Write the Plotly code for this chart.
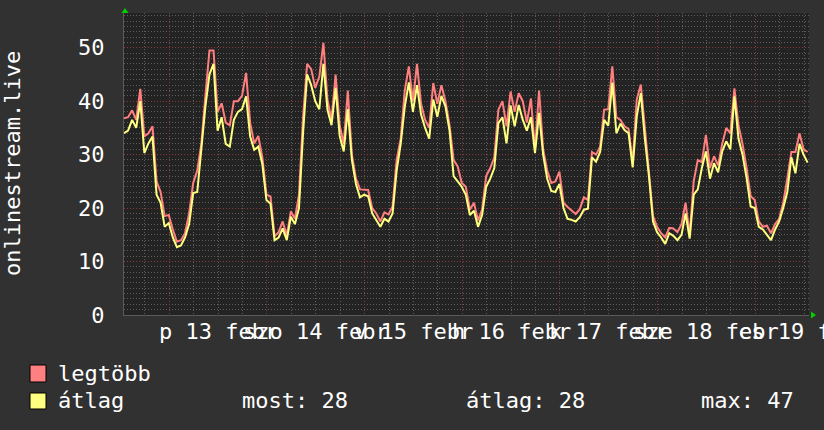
import pandas as pd
import plotly.graph_objects as go

# ---------------- data ----------------
start_time = "2015-02-12 12:52"
range_start = "2015-02-12 12:52"
range_end = "2015-02-19 13:12"

max_values = [
    36.8, 37.0, 38.3, 36.5, 42.3, 33.4, 34.0, 35.3, 25.0, 23.0,
    18.5, 18.7, 16.0, 13.7, 14.0, 15.3, 19.0, 24.7, 27.0, 32.0,
    41.0, 49.5, 49.5, 38.0, 39.6, 36.0, 35.5, 40.0, 40.0, 41.0,
    45.3, 36.0, 32.1, 33.5, 29.5, 22.5, 22.2, 14.7, 15.5, 17.5,
    14.8, 19.4, 18.0, 22.5, 37.0, 47.0, 46.0, 42.5, 44.6, 50.9,
    40.3, 36.5, 45.0, 35.5, 32.0, 42.0, 30.0, 25.5, 23.5, 23.4,
    23.4, 20.0, 19.0, 17.5, 19.2, 18.8, 20.3, 29.0, 33.0, 42.0,
    46.5, 40.0, 47.0, 39.5, 36.5, 35.0, 43.4, 39.5, 43.0, 40.0,
    35.5, 29.0, 27.8, 24.7, 24.0, 19.7, 21.0, 17.7, 19.7, 26.0,
    27.5, 29.5, 38.4, 40.0, 35.3, 41.8, 38.0, 41.5, 40.0, 36.0,
    40.5, 31.0, 42.0, 31.0, 27.0, 24.7, 25.0, 26.8, 21.0, 20.2,
    19.5, 18.9, 19.8, 22.0, 21.5, 30.5, 30.0, 31.5, 38.4, 38.5,
    46.5, 37.0, 36.5, 35.3, 34.8, 28.5, 40.3, 43.1, 35.0, 27.0,
    18.5, 16.5, 15.3, 14.5, 16.3, 16.2, 15.5, 17.0, 21.0, 15.0,
    25.0, 29.0, 28.6, 33.7, 27.5, 29.7, 28.0, 32.0, 35.0, 34.0,
    42.4, 35.5, 32.0, 27.5, 22.2, 21.5, 17.5, 16.5, 16.7, 15.3,
    17.0, 18.0, 21.0, 25.5, 30.5, 30.5, 34.0, 31.0, 30.5,
]

avg_values = [
    34.0, 34.5, 36.5, 35.0, 40.0, 30.3, 32.1, 33.4, 22.5, 21.0,
    16.5, 17.2, 14.5, 12.7, 13.0, 14.5, 17.0, 22.8, 23.0, 30.5,
    39.0, 45.0, 47.0, 34.5, 37.0, 32.0, 31.5, 36.5, 38.0, 38.5,
    40.9, 33.4, 30.9, 31.5, 28.2, 21.5, 20.8, 14.0, 14.5, 16.2,
    14.0, 18.4, 17.0, 20.0, 34.0, 45.0, 43.0, 40.0, 38.5, 47.0,
    38.4, 35.5, 42.5, 33.5, 30.6, 38.5, 29.0, 24.5, 22.0, 22.5,
    22.2, 19.0, 17.8, 16.5, 18.0, 17.5, 19.0, 27.0, 32.0, 39.0,
    43.5, 38.0, 43.0, 37.5, 35.0, 33.0, 40.3, 37.1, 41.0, 39.0,
    34.5, 26.0, 25.0, 24.0, 22.5, 18.7, 19.5, 16.5, 18.7, 24.0,
    25.5, 27.5, 35.9, 37.0, 32.1, 39.2, 35.3, 39.3, 36.5, 34.5,
    37.0, 30.3, 37.8, 30.0, 25.5, 23.2, 23.0, 24.5, 20.0, 18.0,
    17.8, 17.5, 18.3, 19.7, 19.9, 29.5, 28.7, 30.5, 36.5, 35.4,
    43.5, 34.0, 35.8, 34.6, 34.0, 27.6, 37.1, 41.5, 33.0, 26.0,
    17.5, 15.5, 14.5, 13.3, 15.3, 14.8, 14.0, 15.0, 19.0, 14.3,
    22.5, 23.5, 27.5, 30.6, 25.5, 28.4, 26.7, 30.6, 32.5, 31.0,
    40.9, 33.0, 30.0, 25.6, 20.3, 20.0, 16.5, 16.0, 15.0, 14.0,
    16.0, 17.5, 20.0, 23.0, 29.5, 26.5, 32.0, 30.0, 28.5,
]

day_label_dates = ["2015-02-13 12:00", "2015-02-14 12:00", "2015-02-15 12:00",
                   "2015-02-16 12:00", "2015-02-17 12:00", "2015-02-18 12:00",
                   "2015-02-19 12:00"]
day_labels = ["p 13 febr", "szo 14 febr", "v 15 febr", "h 16 febr",
              "k 17 febr", "sze 18 febr", "cs 19 febr"]

series_names = ["legtöbb", "átlag"]
stat_labels = ["most: 28", "átlag: 28", "max: 47"]
y_title = "onlinestream.live"

times = pd.date_range(start_time, periods=len(max_values), freq="h")

# ---------------- style ----------------
FONT = "DejaVu Sans Mono"
RED = "#ff7f7f"
YEL = "#ffff7f"
PAPER = "#313131"
CANVAS = "#232323"
MAJOR_GRID = "#8a3a3a"
MINOR_GRID = "#5e5e5e"
DASH = "1px,2px"

W, H = 824, 430
ML, MR, MT, MB = 124, 15, 13, 115
PW, PH = W - ML - MR, H - MT - MB


def px_x(x):
    return (x - ML) / PW


def px_y(y):
    return (H - MB - y) / PH


fig = go.Figure()
fig.add_trace(go.Scatter(x=times, y=max_values, mode="lines", name=series_names[0],
                         line=dict(color=RED, width=2), showlegend=False))
fig.add_trace(go.Scatter(x=times, y=avg_values, mode="lines", name=series_names[1],
                         line=dict(color=YEL, width=2), showlegend=False))

annotations = []
for d, lab in zip(day_label_dates, day_labels):
    annotations.append(dict(x=d, xref="x", y=px_y(331), yref="paper", text=lab,
                            showarrow=False, xanchor="center", yanchor="middle",
                            font=dict(family=FONT, size=22, color="white")))

annotations.append(dict(x=px_x(12), xref="paper", y=0.5, yref="paper", text=y_title,
                        textangle=-90, showarrow=False, xanchor="center", yanchor="middle",
                        font=dict(family=FONT, size=22, color="white")))

legend_rows = [px_y(373.5), px_y(401)]
annotations.append(dict(x=px_x(56), xref="paper", y=legend_rows[0], yref="paper",
                        text=series_names[0], showarrow=False, xanchor="left", yanchor="middle",
                        font=dict(family=FONT, size=22, color="white")))
annotations.append(dict(x=px_x(56), xref="paper", y=legend_rows[1], yref="paper",
                        text=series_names[1], showarrow=False, xanchor="left", yanchor="middle",
                        font=dict(family=FONT, size=22, color="white")))
for xp, t in zip([240, 464, 699], stat_labels):
    annotations.append(dict(x=px_x(xp), xref="paper", y=legend_rows[1], yref="paper",
                            text=t, showarrow=False, xanchor="left", yanchor="middle",
                            font=dict(family=FONT, size=22, color="white")))

shapes = [
    # legend swatches
    dict(type="rect", xref="paper", yref="paper", x0=px_x(30), x1=px_x(46),
         y0=px_y(382), y1=px_y(365), fillcolor="#ff8080", line=dict(color="black", width=1)),
    dict(type="rect", xref="paper", yref="paper", x0=px_x(30), x1=px_x(46),
         y0=px_y(409), y1=px_y(393), fillcolor="#ffff80", line=dict(color="black", width=1)),
    # axis arrows
    dict(type="path", xref="paper", yref="paper",
         path=f"M {px_x(121.5)},{px_y(13)} L {px_x(128.5)},{px_y(13)} L {px_x(125)},{px_y(8)} Z",
         fillcolor="#00d000", line=dict(width=0)),
    dict(type="path", xref="paper", yref="paper",
         path=f"M {px_x(811)},{px_y(311.5)} L {px_x(811)},{px_y(318.5)} L {px_x(816)},{px_y(315)} Z",
         fillcolor="#00d000", line=dict(width=0)),
]

fig.update_layout(
    width=W, height=H, autosize=False,
    margin=dict(l=ML, r=MR, t=MT, b=MB, pad=0),
    paper_bgcolor=PAPER, plot_bgcolor=CANVAS,
    font=dict(family=FONT, size=22, color="white"),
    showlegend=False,
    hovermode=False,
    annotations=annotations,
    shapes=shapes,
    xaxis=dict(
        type="date", range=[range_start, range_end],
        showgrid=True, gridcolor=MAJOR_GRID, griddash=DASH, gridwidth=1,
        tick0="2015-02-13", dtick=86400000,
        minor=dict(tick0="2015-02-13", dtick=6 * 3600000, showgrid=True,
                   gridcolor=MINOR_GRID, griddash=DASH, gridwidth=1),
        showticklabels=False, ticks="",
        showline=True, linecolor="#5a5a5a", linewidth=1,
        zeroline=False, fixedrange=True,
    ),
    yaxis=dict(
        range=[0, 56.5], tick0=0, dtick=10,
        showgrid=True, gridcolor=MAJOR_GRID, griddash=DASH, gridwidth=1,
        minor=dict(tick0=0, dtick=1, showgrid=True, gridcolor=MINOR_GRID,
                   griddash=DASH, gridwidth=1),
        ticks="outside", ticklen=14, tickcolor="rgba(0,0,0,0)",
        tickfont=dict(family=FONT, size=22, color="white"),
        showline=True, linecolor="#5a5a5a", linewidth=1,
        zeroline=False, fixedrange=True,
    ),
)

page_fix = ("document.body.style.margin='0';document.body.style.padding='0';"
            "document.body.style.background='" + PAPER + "';"
            "document.documentElement.style.overflow='hidden';")
fig.write_html("out.html", post_script=page_fix,
               config={"displayModeBar": False, "staticPlot": True})
